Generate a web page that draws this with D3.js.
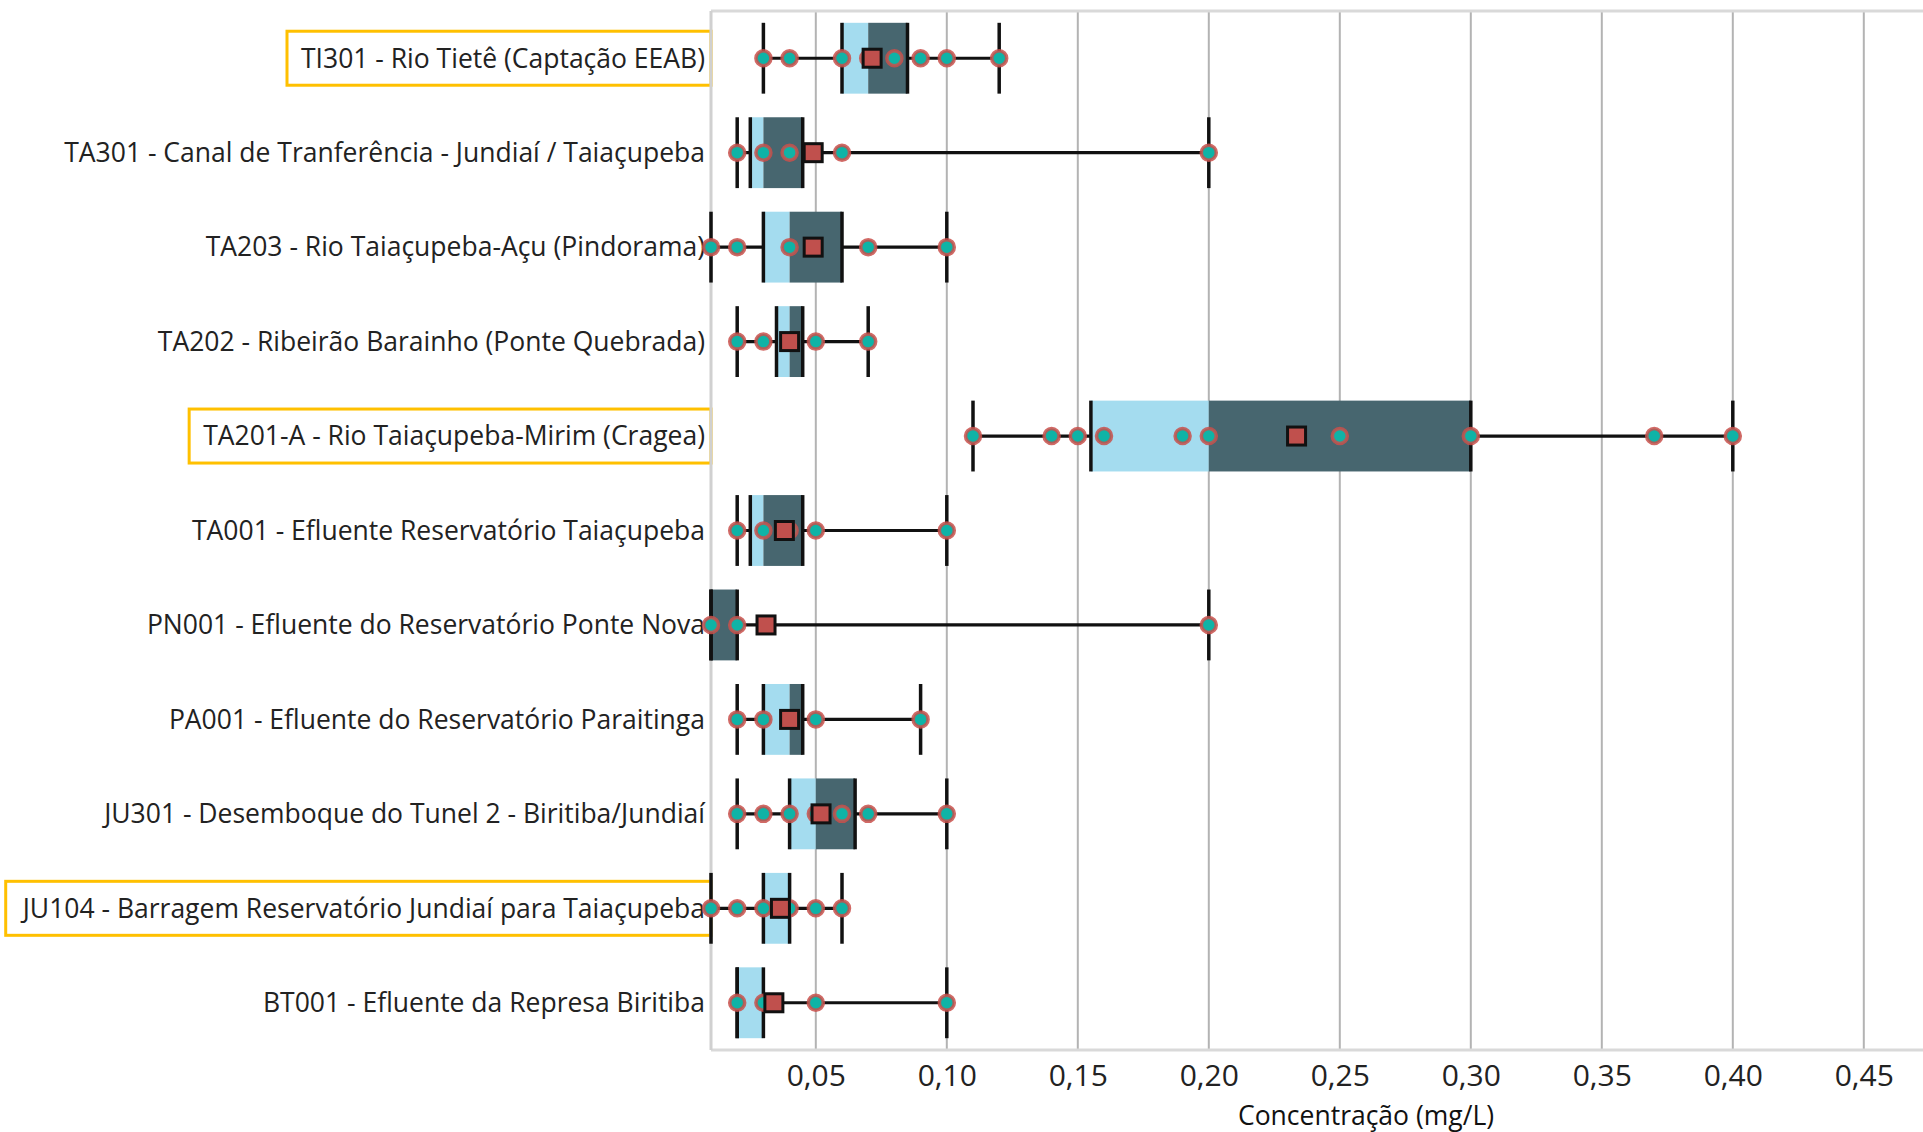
<!DOCTYPE html>
<html>
<head>
<meta charset="utf-8">
<script src="https://cdn.jsdelivr.net/npm/d3@7"></script>
<style>
  body { margin: 0; background: #fff; }
  svg { display: block; font-family: "Open Sans", "Noto Sans", sans-serif; }
</style>
</head>
<body>
<script>
var width = 1923;
var height = 1132;

// estações (de cima para baixo)
var stations = [
  "TI301 - Rio Tietê (Captação EEAB)",
  "TA301 - Canal de Tranferência - Jundiaí / Taiaçupeba",
  "TA203 - Rio Taiaçupeba-Açu (Pindorama)",
  "TA202 - Ribeirão Barainho (Ponte Quebrada)",
  "TA201-A - Rio Taiaçupeba-Mirim (Cragea)",
  "TA001 - Efluente Reservatório Taiaçupeba",
  "PN001 - Efluente do Reservatório Ponte Nova",
  "PA001 - Efluente do Reservatório Paraitinga",
  "JU301 - Desemboque do Tunel 2 - Biritiba/Jundiaí",
  "JU104 - Barragem Reservatório Jundiaí para Taiaçupeba",
  "BT001 - Efluente da Represa Biritiba"
];
var highlighted = ["TI301 - Rio Tietê (Captação EEAB)",
                   "TA201-A - Rio Taiaçupeba-Mirim (Cragea)",
                   "JU104 - Barragem Reservatório Jundiaí para Taiaçupeba"];

var minVals    = [0.03, 0.02,  0.01, 0.02,  0.11,  0.02,  0.01, 0.02,  0.02,  0.01,  0.02];
var q1Vals     = [0.06, 0.025, 0.03, 0.035, 0.155, 0.025, 0.01, 0.03,  0.04,  0.03,  0.02];
var medianVals = [0.07, 0.03,  0.04, 0.04,  0.20,  0.03,  0.01, 0.04,  0.05,  0.04,  0.03];
var q3Vals     = [0.085,0.045, 0.06, 0.045, 0.30,  0.045, 0.02, 0.045, 0.065, 0.04,  0.03];
var maxVals    = [0.12, 0.20,  0.10, 0.07,  0.40,  0.10,  0.20, 0.09,  0.10,  0.06,  0.10];
var meanVals   = [0.0715,0.049,0.049,0.04,  0.2335,0.038, 0.031,0.04,  0.052, 0.0365,0.034];
var pointVals  = [
  [0.03, 0.04, 0.06, 0.07, 0.08, 0.09, 0.10, 0.12],
  [0.02, 0.03, 0.04, 0.06, 0.20],
  [0.01, 0.02, 0.04, 0.07, 0.10],
  [0.02, 0.03, 0.04, 0.05, 0.07],
  [0.11, 0.14, 0.15, 0.16, 0.19, 0.20, 0.25, 0.30, 0.37, 0.40],
  [0.02, 0.03, 0.04, 0.05, 0.10],
  [0.01, 0.02, 0.20],
  [0.02, 0.03, 0.04, 0.05, 0.09],
  [0.02, 0.03, 0.04, 0.05, 0.06, 0.07, 0.10],
  [0.01, 0.02, 0.03, 0.04, 0.05, 0.06],
  [0.02, 0.03, 0.05, 0.10]
];
var xTicks = [0.05, 0.10, 0.15, 0.20, 0.25, 0.30, 0.35, 0.40, 0.45];

var data = stations.map(function(s, i) {
  return { name: s, min: minVals[i], q1: q1Vals[i], med: medianVals[i], q3: q3Vals[i],
           max: maxVals[i], mean: meanVals[i], pts: pointVals[i] };
});

var plotLeft = 711, plotTop = 11, plotBottom = 1050;

var svg = d3.select("body").append("svg")
  .attr("width", width)
  .attr("height", height);

var x = d3.scaleLinear().domain([0.01, 0.51]).range([plotLeft, 2021]);
var y = d3.scaleBand().domain(stations).range([plotTop, plotBottom])
  .paddingInner(0.25).paddingOuter(0.125);

var fmt = function(d) { return d3.format(".2f")(d).replace(".", ","); };

// grade
svg.append("g").selectAll("line").data(xTicks).enter().append("line")
  .attr("x1", d => x(d)).attr("x2", d => x(d))
  .attr("y1", plotTop).attr("y2", plotBottom)
  .style("stroke", "#b3b3b3").style("stroke-width", 2);

// moldura
svg.append("line").attr("x1", plotLeft).attr("x2", width).attr("y1", plotTop).attr("y2", plotTop)
  .style("stroke", "#d9d9d9").style("stroke-width", 3);
svg.append("line").attr("x1", plotLeft).attr("x2", width).attr("y1", plotBottom).attr("y2", plotBottom)
  .style("stroke", "#d9d9d9").style("stroke-width", 3);
svg.append("line").attr("x1", plotLeft).attr("x2", plotLeft).attr("y1", plotTop).attr("y2", plotBottom)
  .style("stroke", "#d0d0d0").style("stroke-width", 3);

// eixo x
var xAxis = svg.append("g").attr("transform", "translate(0," + plotBottom + ")")
  .call(d3.axisBottom(x).tickValues(xTicks).tickFormat(fmt).tickSize(0).tickPadding(15));
xAxis.select(".domain").remove();
xAxis.selectAll("text").style("font-size", "30px").style("fill", "#222")
  .style("font-family", "'Open Sans', sans-serif");

svg.append("text")
  .attr("x", (x.range()[0] + x.range()[1]) / 2)
  .attr("y", 1125)
  .attr("text-anchor", "middle")
  .style("font-size", "26.5px").style("fill", "#111")
  .text("Concentração (mg/L)");

// rótulos das estações
var labels = svg.append("g").selectAll("text").data(stations).enter().append("text")
  .attr("x", 705)
  .attr("y", d => y(d) + y.bandwidth() / 2)
  .attr("dy", "0.35em")
  .attr("text-anchor", "end")
  .style("font-size", "26.5px").style("fill", "#222")
  .text(d => d);

labels.filter(d => highlighted.indexOf(d) >= 0).each(function(d) {
  var bb = this.getBBox();
  svg.insert("rect", "g")
    .attr("x", bb.x - 14).attr("width", plotLeft - bb.x + 14)
    .attr("y", y(d) + y.bandwidth() / 2 - 27).attr("height", 54)
    .style("fill", "none").style("stroke", "#ffc000").style("stroke-width", 3);
});

var rows = svg.selectAll(".row").data(data).enter().append("g")
  .attr("class", "row")
  .attr("transform", d => "translate(0," + y(d.name) + ")");

var bw = y.bandwidth(), cy = bw / 2;

// linha do bigode
rows.append("line")
  .attr("x1", d => x(d.min)).attr("x2", d => x(d.max))
  .attr("y1", cy).attr("y2", cy)
  .style("stroke", "#111").style("stroke-width", 3.2);

// caixa: Q1-mediana e mediana-Q3
rows.append("rect")
  .attr("x", d => x(d.q1)).attr("width", d => x(d.med) - x(d.q1))
  .attr("y", 0).attr("height", bw)
  .style("fill", "#a4dcef");
rows.append("rect")
  .attr("x", d => x(d.med)).attr("width", d => x(d.q3) - x(d.med))
  .attr("y", 0).attr("height", bw)
  .style("fill", "#47666f");

// bordas da caixa e extremos
rows.each(function(d) {
  var g = d3.select(this);
  [d.min, d.q1, d.q3, d.max].forEach(function(v) {
    g.append("line")
      .attr("x1", x(v)).attr("x2", x(v))
      .attr("y1", 0).attr("y2", bw)
      .style("stroke", "#111").style("stroke-width", 3.5);
  });
});

// pontos
rows.selectAll("circle").data(d => d.pts).enter().append("circle")
  .attr("cx", d => x(d)).attr("cy", cy).attr("r", 7.5)
  .style("fill", "#0fb3a6")
  .style("stroke", "#c9504b").style("stroke-opacity", 0.85).style("stroke-width", 3.5);

// média
rows.append("rect")
  .attr("x", d => x(d.mean) - 9).attr("y", cy - 9)
  .attr("width", 18).attr("height", 18)
  .style("fill", "#c0504d").style("stroke", "#111").style("stroke-width", 3);
</script>
</body>
</html>
